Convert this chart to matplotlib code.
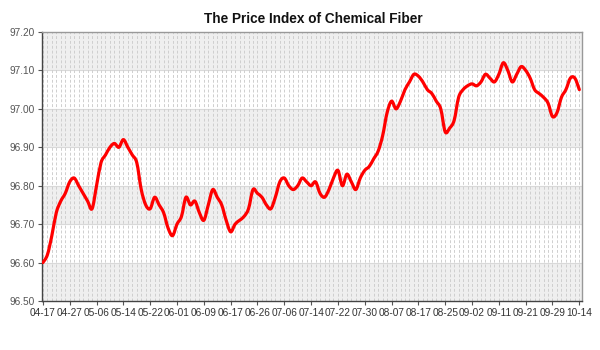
import matplotlib
matplotlib.use("Agg")
import matplotlib.pyplot as plt
from matplotlib.path import Path
from matplotlib.patches import PathPatch
import numpy as np

# index values, one per trading day
values = [
    96.60, 96.62, 96.67, 96.73, 96.76, 96.78, 96.81, 96.82, 96.80, 96.78,
    96.76, 96.74, 96.80, 96.86, 96.88, 96.90, 96.91, 96.90, 96.92, 96.90,
    96.88, 96.86, 96.79, 96.75, 96.74, 96.77, 96.75, 96.73, 96.69, 96.67,
    96.70, 96.72, 96.77, 96.75, 96.76, 96.73, 96.71, 96.75, 96.79, 96.77,
    96.75, 96.71, 96.68, 96.70, 96.71, 96.72, 96.74, 96.79, 96.78, 96.77,
    96.75, 96.74, 96.77, 96.81, 96.82, 96.80, 96.79, 96.80, 96.82, 96.81,
    96.80, 96.81, 96.78, 96.77, 96.79, 96.82, 96.84, 96.80, 96.83, 96.81,
    96.79, 96.82, 96.84, 96.85, 96.87, 96.89, 96.93, 96.99, 97.02, 97.00,
    97.02, 97.05, 97.07, 97.09, 97.085, 97.07, 97.05, 97.04, 97.02, 97.00,
    96.94, 96.95, 96.97, 97.03, 97.05, 97.06, 97.065, 97.06, 97.07, 97.09,
    97.08, 97.07, 97.09, 97.12, 97.10, 97.07, 97.09, 97.11, 97.10, 97.08,
    97.05, 97.04, 97.03, 97.015, 96.98, 96.99, 97.03, 97.05, 97.08, 97.08,
    97.05,
]
tick_labels = ["04-17", "04-27", "05-06", "05-14", "05-22", "06-01", "06-09",
               "06-17", "06-26", "07-06", "07-14", "07-22", "07-30", "08-07",
               "08-17", "08-25", "09-02", "09-11", "09-21", "09-29", "10-14"]
title = "The Price Index of Chemical Fiber"

plt.rcParams['font.family'] = ['Liberation Sans', 'DejaVu Sans']

fig = plt.figure(figsize=(6, 3.5), dpi=100)
ax = fig.add_axes([0.07, 0.14, 0.90, 0.7686])

x = np.arange(len(values))
y = np.array(values)
y_lo, y_hi = 96.50, 97.20

# alternating bands
edges = np.round(np.arange(y_lo, y_hi + 0.001, 0.1), 2)
for k in range(len(edges) - 1):
    if k % 2 == 0:
        ax.axhspan(edges[k], edges[k + 1], color="#efefef", zorder=0, lw=0)
for e in edges[1:-1]:
    ax.axhline(e, color="#d9d9d9", lw=0.8, zorder=1)
for xi in x:
    ax.axvline(xi, color="#cfcfcf", lw=0.7, ls=(0, (3, 2)), zorder=1)

# spline-style line: bezier segments through the data points
verts = [(x[0], y[0])]
codes = [Path.MOVETO]
n = len(y)
for i in range(n - 1):
    p0 = (x[max(i - 1, 0)], y[max(i - 1, 0)])
    p1 = (x[i], y[i])
    p2 = (x[i + 1], y[i + 1])
    p3 = (x[min(i + 2, n - 1)], y[min(i + 2, n - 1)])
    c1 = (p1[0] + (p2[0] - p0[0]) / 6, p1[1] + (p2[1] - p0[1]) / 6)
    c2 = (p2[0] - (p3[0] - p1[0]) / 6, p2[1] - (p3[1] - p1[1]) / 6)
    verts += [c1, c2, p2]
    codes += [Path.CURVE4] * 3
ax.add_patch(PathPatch(Path(verts, codes), facecolor="none",
                       edgecolor="#ff0000", lw=2.3, joinstyle="round",
                       capstyle="round", zorder=3))

ax.set_xlim(-0.2, len(values) - 1 + 0.6)
ax.set_ylim(y_lo, y_hi)
ax.set_yticks(edges)
ax.set_yticklabels([f"{v:.2f}" for v in edges])
ax.set_xticks(np.arange(0, len(values), 6))
ax.set_xticklabels(tick_labels)
ax.tick_params(axis="both", labelsize=7.3, length=3, width=0.8, pad=2,
               colors="#555555")
ax.tick_params(axis="x", labelcolor="#333333")

for side in ["left", "bottom"]:
    ax.spines[side].set_color("#444444")
    ax.spines[side].set_linewidth(1.0)
for side in ["top", "right"]:
    ax.spines[side].set_color("#999999")
    ax.spines[side].set_linewidth(1.0)

fig.text(0.523, 0.945, title, ha="center", va="center", fontsize=9.8,
         fontweight="bold", color="#111111")

fig.savefig("out.png", dpi=100)
